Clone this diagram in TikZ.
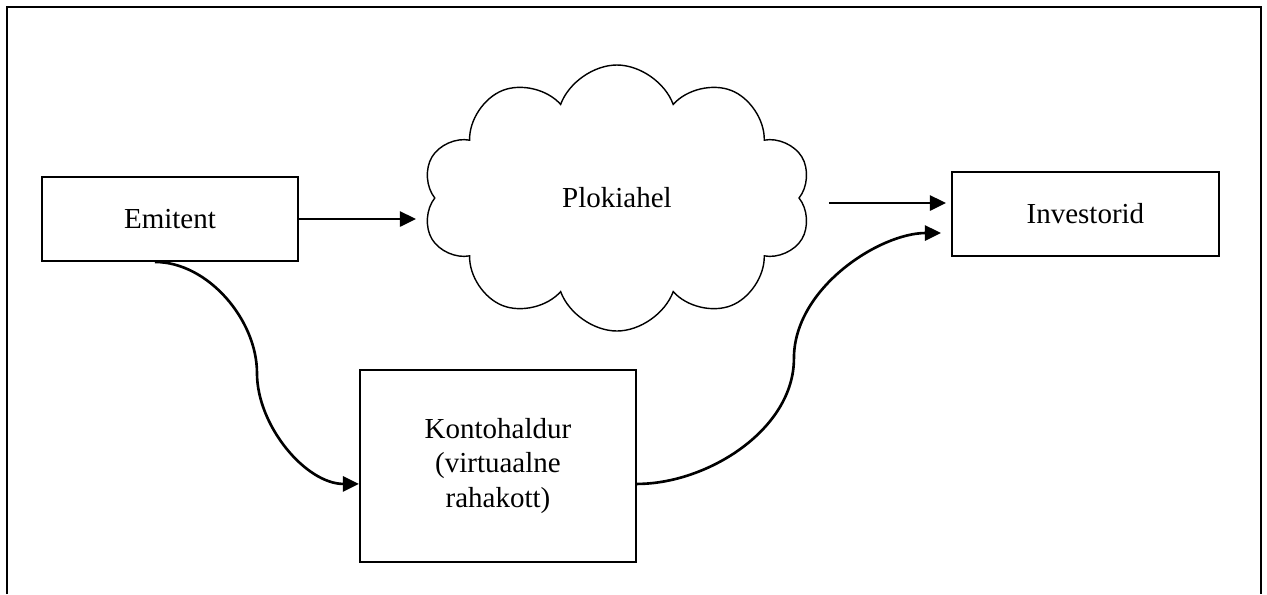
\documentclass[tikz,border=0pt]{standalone}
\usepackage{fontspec}
\setmainfont{Liberation Serif}
\usepackage{tikz}
\usetikzlibrary{shapes.symbols, arrows.meta, positioning, calc}
\tikzset{
    partybox/.style ={rectangle, minimum width=5.12cm, minimum height=1.68cm, text centered, align=center, draw=black, line width=1.1pt, inner sep=2pt},
    chaincloud/.style={cloud, cloud puffs=10, cloud puff arc=140, aspect=1.45, minimum width=7.78cm, minimum height=5.32cm, draw=black, line width=0.8pt, text centered},
    flowarrow/.style ={-{Triangle[length=0.32cm, width=0.3cm]}, line width=1.5pt},
}

\begin{document}
\begin{tikzpicture}[font=\fontsize{16.5}{19.8}\selectfont, node distance=0.5cm]
        \useasboundingbox (0,0) rectangle (25.34,-11.88);
        % frame (open at the bottom)
        \draw[line width=1.1pt] (0.14,-11.88) -- (0.14,-0.14) -- (25.22,-0.14) -- (25.22,-11.88);
        % parties
        \node[partybox] (emitent) at (3.4,-4.38) {Emitent};
        \node[chaincloud, right=2.7cm of emitent, yshift=0.42cm] (chain) {Plokiahel};
        \node[partybox, minimum width=5.34cm, right=13.04cm of emitent, yshift=0.1cm] (investor) {Investorid};
        \node[partybox, minimum width=5.52cm, minimum height=3.84cm, below right=2.14cm and 1.2cm of emitent] (wallet) {Kontohaldur\\(virtuaalne\\rahakott)};
        % straight flows
        \draw[flowarrow, shorten >=0.36cm] (emitent.east) -- (emitent.east -| chain.west);
        \draw[flowarrow, shorten <=0.58cm, shorten >=0.1cm] ([yshift=0.22cm]investor.west -| chain.east) -- ([yshift=0.22cm]investor.west);
        % curved flows through the wallet
        \coordinate (e1) at ([xshift=-0.3cm]emitent.south);
        \coordinate (w1) at ([yshift=-0.36cm]wallet.west);
        \coordinate (w2) at ([yshift=-0.36cm]wallet.east);
        \coordinate (i1) at ([yshift=-0.38cm]investor.west);
        \draw[flowarrow] (e1) to[out=0, in=90, looseness=0.9] ($(e1)!0.5!(w1)$) to[out=-90, in=180, looseness=0.9] (w1);
        \draw[flowarrow, shorten >=0.2cm] (w2) to[out=0, in=-90, looseness=0.9] ($(w2)!0.5!(i1)$) to[out=90, in=180, looseness=0.9] (i1);
    \end{tikzpicture}
\end{document}
